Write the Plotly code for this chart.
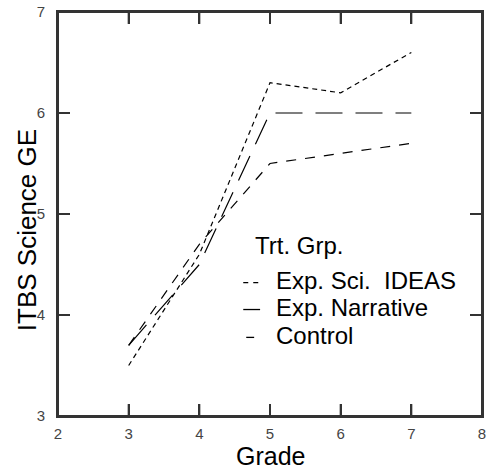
import plotly.graph_objects as go

grades = [3, 4, 5, 6, 7]
sci_ideas = [3.5, 4.6, 6.3, 6.2, 6.6]
narrative = [3.7, 4.5, 6.0, 6.0, 6.0]
control = [3.7, 4.7, 5.5, 5.6, 5.7]
x_ticks = [2, 3, 4, 5, 6, 7, 8]
y_ticks = [3, 4, 5, 6, 7]

series = [
    ("Exp. Sci.  IDEAS", sci_ideas, "5px,4px"),
    ("Exp. Narrative", narrative, "27px,13px"),
    ("Control", control, "10px,9px"),
]

FONT = "Liberation Sans, Arial"
W, H = 489, 473
ML, MR, MT, MB = 58, 3, 10, 57
PW, PH = W - ML - MR, H - MT - MB
TICK = 12
AX = "#333"


def px(xp):
    return (xp - ML) / PW


def py(yp):
    return (H - MB - yp) / PH


fig = go.Figure()
for name, vals, dash in series:
    fig.add_trace(go.Scatter(
        x=grades, y=vals, mode="lines", name=name, showlegend=False,
        line=dict(color="black", width=1.2, dash=dash),
    ))

axis_common = dict(
    showgrid=False, zeroline=False,
    showline=True, linecolor=AX, linewidth=2,
    mirror="ticks", ticks="inside", ticklen=TICK, tickwidth=2, tickcolor=AX,
    tickfont=dict(family=FONT, size=15, color="#444"),
    ticklabeloverflow="allow",
)

fig.update_xaxes(range=[2, 8], tickvals=x_ticks, ticklabelstandoff=3, **axis_common)
fig.update_yaxes(range=[3, 7], tickvals=y_ticks, ticklabelstandoff=8, **axis_common)

# plot frame and tick marks on all four sides (placed through the axes' scales)
fig.add_shape(type="rect", xref="paper", yref="paper", x0=0, x1=1, y0=0, y1=1,
              line=dict(color=AX, width=2), layer="above")
for t in x_ticks[1:-1]:
    fig.add_shape(type="line", xref="x", yref="paper", x0=t, x1=t, y0=0, y1=TICK / PH,
                  line=dict(color=AX, width=2), layer="above")
    fig.add_shape(type="line", xref="x", yref="paper", x0=t, x1=t, y0=1 - TICK / PH, y1=1,
                  line=dict(color=AX, width=2), layer="above")
for t in y_ticks[1:-1]:
    fig.add_shape(type="line", xref="paper", yref="y", x0=0, x1=TICK / PW, y0=t, y1=t,
                  line=dict(color=AX, width=2), layer="above")
    fig.add_shape(type="line", xref="paper", yref="y", x0=1 - TICK / PW, x1=1, y0=t, y1=t,
                  line=dict(color=AX, width=2), layer="above")

# axis titles
fig.add_annotation(text="Grade", showarrow=False, xref="paper", yref="paper",
                   x=0.5, y=py(456), xanchor="center", yanchor="middle",
                   font=dict(family=FONT, size=25, color="black"))
fig.add_annotation(text="ITBS Science GE", textangle=-90, showarrow=False,
                   xref="paper", yref="paper", x=px(27), y=py(229),
                   xanchor="center", yanchor="middle",
                   font=dict(family=FONT, size=26, color="black"))

# legend drawn in the plot area
fig.add_annotation(text="Trt. Grp.", showarrow=False, xref="paper", yref="paper",
                   x=px(255), y=py(245), xanchor="left", yanchor="middle",
                   font=dict(family=FONT, size=24, color="black"))
legend_rows = [280, 307, 335]
legend_keys = [(245, 262, "5px,5px"), (245, 262, "solid"), (248, 256, "solid")]
for (name, _, _), yrow, (k0, k1, kd) in zip(series, legend_rows, legend_keys):
    fig.add_annotation(text=name, showarrow=False, xref="paper", yref="paper",
                       x=px(276), y=py(yrow), xanchor="left", yanchor="middle",
                       font=dict(family=FONT, size=24, color="black"))
    fig.add_shape(type="line", xref="paper", yref="paper",
                  x0=px(k0), x1=px(k1), y0=py(yrow + 2), y1=py(yrow + 2),
                  line=dict(color="black", width=1.3, dash=kd))

fig.update_layout(
    width=W, height=H,
    margin=dict(l=ML, r=MR, t=MT, b=MB),
    paper_bgcolor="white", plot_bgcolor="white",
    showlegend=False,
)

fig.write_html(
    "out.html",
    config={"displayModeBar": False},
    post_script=(
        "document.documentElement.style.overflow='hidden';"
        "document.body.style.overflow='hidden';"
        "document.body.style.margin='0px';"
    ),
)
